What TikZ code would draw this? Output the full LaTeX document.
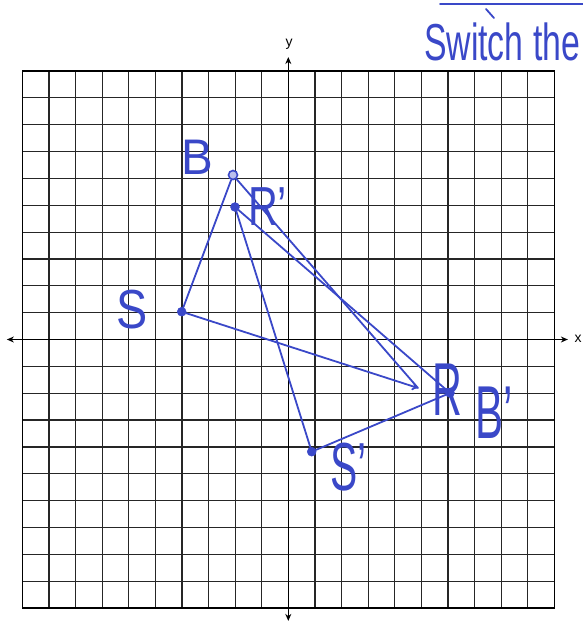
\documentclass[tikz,border=0pt]{standalone}
\usepackage{fontspec}
\setmainfont{Liberation Sans}
\usetikzlibrary{arrows.meta}
\definecolor{pen}{RGB}{58,72,200}
\begin{document}
\begin{tikzpicture}[x=1pt,y=-1pt,
  gridln/.style={line width=1.2pt, black!85},
  frameln/.style={line width=1.6pt, black},
  axisln/.style={line width=1.4pt, black, {Stealth[length=7pt,width=6pt]}-{Stealth[length=7pt,width=6pt]}},
  axlabel/.style={inner sep=0pt, font=\fontsize{14}{14}\selectfont},
  penln/.style={pen, line width=1.8pt, line cap=round, line join=round},
  dot/.style={circle, fill=pen, draw=pen, inner sep=0pt, minimum size=9pt},
  odot/.style={circle, draw=pen, line width=1.6pt, fill=pen!35, inner sep=0pt, minimum size=9pt},
  hand/.style={pen, inner sep=0pt},
]
\useasboundingbox (0,0) rectangle (583,622);
% grid and axes
\begin{scope}[shift={(288.3,339.5)}, x=26.6pt, y=26.85pt]
  \draw[gridln, step=1] (-10,-10) grid (10,10);
  \draw[frameln] (-10,-10) rectangle (10,10);
  \coordinate (xl) at (-10.58,0);
  \coordinate (xr) at (10.51,0);
  \coordinate (yt) at (0,10.52);
  \coordinate (yb) at (0,-10.48);
  \draw[axisln] (xl) -- (xr);
  \draw[axisln] (yb) -- (yt);
  \node[axlabel] (ylab) at (0.03,11.0) {y};
  \node[axlabel] (xlab) at (10.9,0.02) {x};
\end{scope}
% points
\node[odot] (B) at (233,175) {};
\node[dot] (Rp) at (235,207) {};
\node[dot] (S) at (181.7,311.7) {};
\node[dot] (Sp) at (311.7,451.7) {};
\node[dot] (Bp) at (450,393) {};
\coordinate (R) at (418,388);
% triangle BSR
\draw[penln] (B) -- (S);
\draw[penln, -{To[length=6pt,width=8pt]}] (S) -- (R);
\draw[penln] (B) -- (R);
% triangle B'S'R'
\draw[penln] (Rp) -- (Sp);
\draw[penln] (Sp) -- (Bp);
\draw[penln] (Rp) -- (Bp);
% handwritten labels
\node[hand, font=\fontsize{50}{50}\selectfont, xscale=0.95] (Blab) at (197,157) {B};
\node[hand, font=\fontsize{55}{55}\selectfont, xscale=0.75, anchor=west] (Rplab) at (248,207) {R'};
\node[hand, font=\fontsize{55}{55}\selectfont, xscale=0.85] (Slab) at (132,310) {S};
\node[hand, font=\fontsize{68}{68}\selectfont, xscale=0.6, anchor=west] (Splab) at (330,467) {S'};
\node[hand, font=\fontsize{75}{75}\selectfont, xscale=0.55] (Rlab) at (447,390) {R};
\node[hand, font=\fontsize{75}{75}\selectfont, xscale=0.56, anchor=west] (Bplab) at (475,413) {B'};
\node[hand, font=\fontsize{52}{52}\selectfont, xscale=0.65, anchor=south west] (sw) at (424,61) {Switch the};
% stroke at top edge
\coordinate (tl) at (440,4);
\coordinate (tr) at (583,4);
\draw[penln] (tl) -- (tr);
\coordinate (ta) at (486,9);
\coordinate (tb) at (494,18);
\draw[penln] (ta) -- (tb);
\end{tikzpicture}
\end{document}
